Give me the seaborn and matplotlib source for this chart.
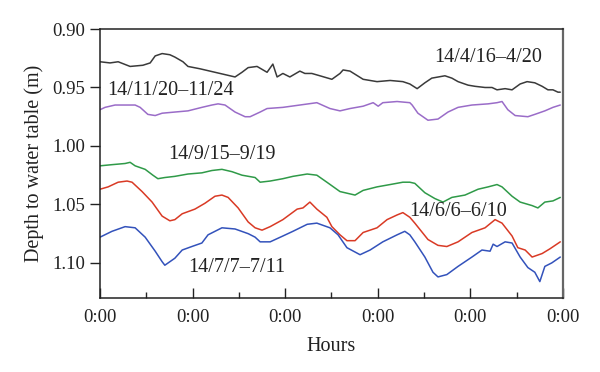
import matplotlib
matplotlib.use("Agg")
import matplotlib.pyplot as plt
import seaborn as sns
from matplotlib.ticker import FixedLocator

# ============================
# Dados (horas, profundidade)
# ============================
h_abr = [0, 2.6, 4.7, 7.8, 11.1, 13.0, 14.3, 16.1, 18.1, 19.4, 21.5, 22.8, 25.9, 29.8,
         32.4, 35.0, 36.8, 38.4, 40.7, 43.3, 44.8, 45.9, 47.4, 49.2, 51.8, 53.1, 54.9,
         57.0, 60.1, 62.2, 63.0, 64.8, 68.2, 71.8, 75.2, 78.5, 80.3, 82.2, 84.2, 86.0,
         89.4, 91.2, 92.8, 95.4, 97.2, 99.8, 101.6, 102.9, 105.0, 106.8, 108.9, 110.7,
         112.7, 114.6, 116.1, 117.4, 118.7, 119.3]
d_abr = [0.928, 0.929, 0.928, 0.932, 0.931, 0.929, 0.923, 0.921, 0.922, 0.924, 0.928,
         0.932, 0.934, 0.937, 0.939, 0.941, 0.937, 0.933, 0.932, 0.937, 0.930, 0.941,
         0.938, 0.941, 0.936, 0.938, 0.938, 0.940, 0.943, 0.938, 0.935, 0.936, 0.943,
         0.945, 0.944, 0.945, 0.947, 0.951, 0.946, 0.942, 0.940, 0.942, 0.945, 0.948,
         0.949, 0.950, 0.950, 0.952, 0.951, 0.952, 0.947, 0.945, 0.946, 0.949, 0.952,
         0.952, 0.954, 0.954]

h_nov = [0, 1.3, 3.9, 9.1, 10.4, 12.4, 14.3, 16.1, 19.4, 22.8, 26.4, 29.0, 30.6, 32.4,
         35.0, 37.6, 38.9, 41.5, 43.3, 47.4, 51.8, 56.2, 59.6, 62.2, 64.8, 68.2, 70.8,
         72.1, 73.3, 77.0, 80.3, 80.9, 82.4, 85.0, 87.6, 90.2, 92.8, 96.4, 100.6, 102.9,
         104.2, 105.7, 107.6, 110.9, 112.7, 115.3, 117.4, 119.3]
d_nov = [0.969, 0.967, 0.965, 0.965, 0.967, 0.973, 0.974, 0.972, 0.971, 0.970, 0.967,
         0.965, 0.964, 0.965, 0.971, 0.975, 0.975, 0.971, 0.968, 0.967, 0.965, 0.963,
         0.968, 0.970, 0.968, 0.966, 0.963, 0.966, 0.963, 0.962, 0.963, 0.965, 0.972,
         0.978, 0.977, 0.971, 0.967, 0.965, 0.964, 0.963, 0.962, 0.969, 0.974, 0.975,
         0.973, 0.970, 0.967, 0.965]

h_set = [0, 3.1, 6.5, 7.8, 9.1, 11.7, 13.7, 15.0, 16.8, 19.4, 22.8, 26.4, 29.0, 31.6,
         34.2, 36.8, 40.2, 41.5, 44.1, 47.4, 50.0, 53.7, 56.2, 58.8, 62.2, 64.8, 66.1,
         68.2, 71.8, 75.2, 78.5, 80.3, 81.6, 84.2, 86.8, 88.9, 91.2, 94.6, 98.0, 100.6,
         102.9, 104.2, 106.8, 108.9, 112.0, 113.5, 115.3, 117.4, 119.3]
d_set = [1.017, 1.016, 1.015, 1.014, 1.017, 1.020, 1.025, 1.028, 1.027, 1.026, 1.024,
         1.023, 1.021, 1.020, 1.022, 1.025, 1.027, 1.031, 1.030, 1.028, 1.026, 1.024,
         1.025, 1.031, 1.039, 1.041, 1.042, 1.038, 1.035, 1.033, 1.031, 1.031, 1.032,
         1.040, 1.045, 1.048, 1.044, 1.042, 1.037, 1.035, 1.033, 1.035, 1.043, 1.048,
         1.051, 1.053, 1.048, 1.047, 1.044]

h_jun = [0, 2.1, 4.7, 7.0, 8.3, 10.9, 13.5, 16.1, 18.1, 19.4, 21.3, 24.6, 27.2, 29.8,
         31.6, 33.2, 35.8, 38.4, 40.2, 42.0, 44.1, 47.4, 51.1, 52.6, 54.4, 56.2, 58.8,
         60.1, 62.2, 64.0, 66.1, 68.2, 71.8, 74.4, 77.0, 78.5, 80.3, 81.6, 85.0, 87.6,
         89.9, 92.8, 96.4, 99.8, 102.4, 104.2, 106.8, 108.3, 110.2, 112.0, 114.6, 116.6,
         119.3]
d_jun = [1.037, 1.035, 1.031, 1.030, 1.031, 1.039, 1.048, 1.060, 1.064, 1.063, 1.058,
         1.054, 1.049, 1.043, 1.042, 1.044, 1.053, 1.065, 1.070, 1.072, 1.069, 1.063,
         1.054, 1.053, 1.048, 1.054, 1.061, 1.069, 1.076, 1.081, 1.081, 1.074, 1.070,
         1.063, 1.059, 1.057, 1.061, 1.066, 1.080, 1.085, 1.086, 1.082, 1.074, 1.070,
         1.063, 1.066, 1.077, 1.087, 1.089, 1.095, 1.092, 1.088, 1.082]

h_jul = [0, 3.1, 6.5, 9.1, 11.7, 14.3, 16.1, 16.8, 19.4, 21.3, 23.8, 26.4, 28.0, 31.6,
         35.0, 38.4, 40.2, 41.5, 44.1, 47.4, 50.0, 53.7, 56.2, 59.6, 61.7, 64.0, 67.4,
         70.0, 73.3, 77.0, 79.0, 80.3, 81.6, 84.2, 86.3, 87.6, 89.9, 92.8, 96.4, 99.0,
         101.1, 101.9, 102.9, 105.0, 106.8, 108.9, 110.9, 112.7, 114.0, 115.3, 117.1,
         119.3]
d_jul = [1.078, 1.073, 1.069, 1.070, 1.078, 1.090, 1.099, 1.102, 1.096, 1.089, 1.086,
         1.083, 1.076, 1.070, 1.071, 1.075, 1.078, 1.082, 1.082, 1.077, 1.073, 1.067,
         1.066, 1.070, 1.076, 1.087, 1.093, 1.089, 1.082, 1.076, 1.073, 1.076, 1.082,
         1.095, 1.108, 1.112, 1.110, 1.103, 1.095, 1.089, 1.090, 1.084, 1.086, 1.082,
         1.083, 1.095, 1.104, 1.108, 1.116, 1.103, 1.100, 1.095]

series = [
    (h_abr, d_abr, "#3a3a3a", "14/4/16–4/20", 100.6, 0.924),
    (h_nov, d_nov, "#9a6cc8", "14/11/20–11/24", 18.4, 0.953),
    (h_set, d_set, "#2f9a48", "14/9/15–9/19", 31.6, 1.007),
    (h_jun, d_jun, "#d93a25", "14/6/6–6/10", 92.8, 1.056),
    (h_jul, d_jul, "#3352bb", "14/7/7–7/11", 35.5, 1.104),
]

# ============================
# Gráfico
# ============================
sns.set_style("ticks")
plt.rcParams['font.family'] = ['Liberation Serif', 'DejaVu Serif']

fig = plt.figure(figsize=(6, 3.72), dpi=100)
ax = fig.add_axes([0.1667, 0.199, 0.7716, 0.723])

for h, d, cor, rotulo, tx, ty in series:
    sns.lineplot(x=h, y=d, color=cor, linewidth=1.1, ax=ax)
    ax.text(tx, ty, rotulo, fontsize=14.5, color="#222222", ha="center", va="center")

ax.set_xlim(0, 120)
ax.set_ylim(1.13, 0.90)
ax.set_xticks(range(0, 121, 24))
ax.set_xticklabels(["0:00"] * 6)
ax.xaxis.set_minor_locator(FixedLocator([12, 36, 60, 84, 108]))
ax.set_yticks([0.90, 0.95, 1.00, 1.05, 1.10])
ax.set_yticklabels(["0.90", "0.95", "1.00", "1.05", "1.10"])

ax.tick_params(axis="x", which="major", direction="in", length=7, width=1,
               labelsize=13.5, pad=8, colors="#222222")
ax.tick_params(axis="x", which="minor", direction="in", length=4, width=1)
ax.tick_params(axis="y", direction="out", length=7, width=1, labelsize=13.5,
               colors="#222222")

for lado in ["left", "bottom", "top"]:
    ax.spines[lado].set_color("#222222")
    ax.spines[lado].set_linewidth(1.1)
ax.spines["right"].set_color("#666666")
ax.spines["right"].set_linewidth(1.6)

ax.set_xlabel("Hours", fontsize=14.5, color="#222222", labelpad=8)
ax.set_ylabel("Depth to water table (m)", fontsize=14.5, color="#222222", labelpad=6)

fig.savefig("out.png", dpi=100)
